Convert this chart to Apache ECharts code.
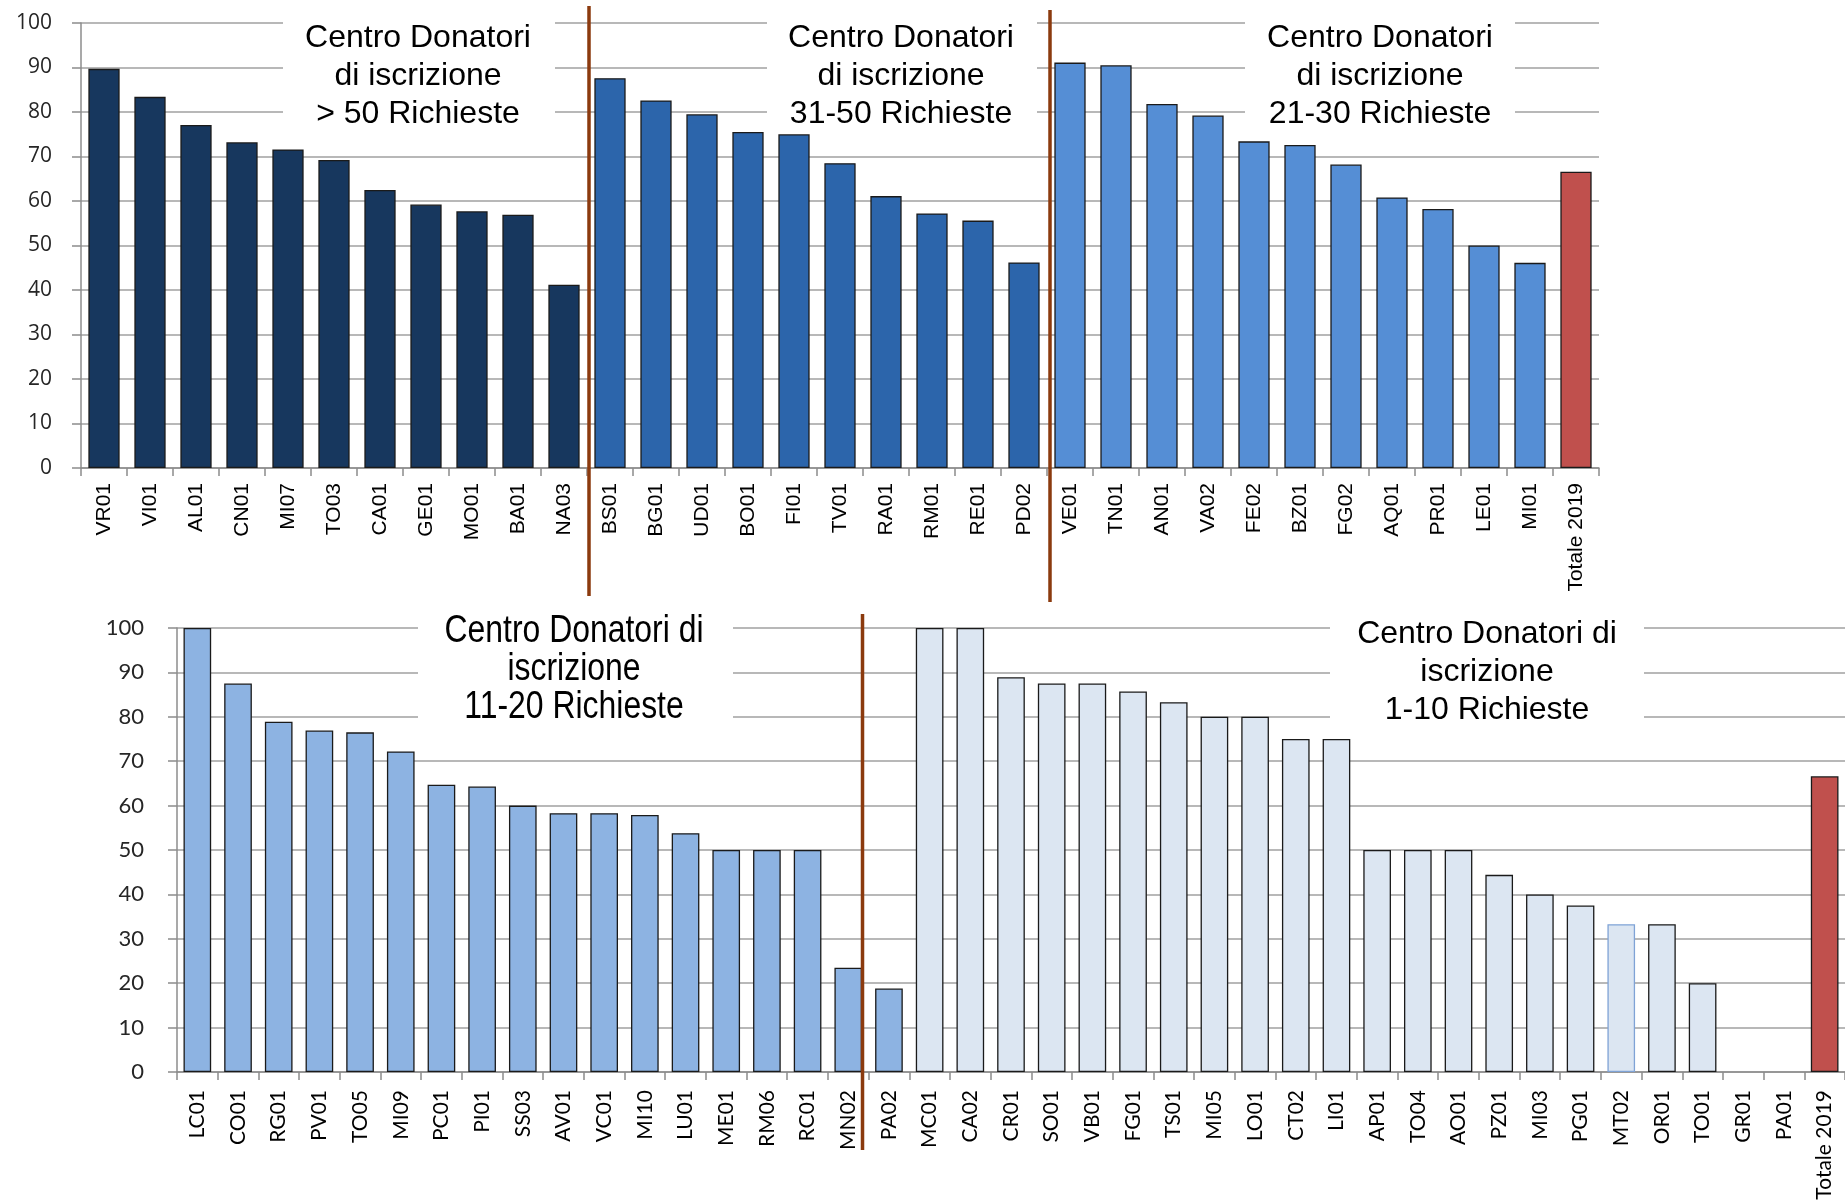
<!DOCTYPE html>
<html><head><meta charset="utf-8">
<script src="https://cdn.jsdelivr.net/npm/echarts@6/dist/echarts.min.js"></script>
<style>html,body{margin:0;padding:0;background:#fff}#c{width:1845px;height:1204px}</style>
</head><body><div id="c"></div>
<script>
// ---------- DATA ----------
const topOver50Labels = ['VR01','VI01','AL01','CN01','MI07','TO03','CA01','GE01','MO01','BA01','NA03'];
const topOver50Values = [89.7, 83.4, 77.1, 73.2, 71.6, 69.2, 62.5, 59.2, 57.7, 56.9, 41.2];
const top31to50Labels = ['BS01','BG01','UD01','BO01','FI01','TV01','RA01','RM01','RE01','PD02'];
const top31to50Values = [87.6, 82.6, 79.5, 75.5, 75.0, 68.5, 61.1, 57.2, 55.6, 46.2];
const top21to30Labels = ['VE01','TN01','AN01','VA02','FE02','BZ01','FG02','AQ01','PR01','LE01','MI01'];
const top21to30Values = [91.1, 90.5, 81.8, 79.2, 73.4, 72.6, 68.2, 60.8, 58.2, 50.0, 46.1];
const bot11to20Labels = ['LC01','CO01','RG01','PV01','TO05','MI09','PC01','PI01','SS03','AV01','VC01','MI10','LU01','ME01','RM06','RC01','MN02','PA02'];
const bot11to20Values = [100, 87.5, 78.9, 76.9, 76.5, 72.2, 64.7, 64.3, 60.0, 58.3, 58.3, 57.9, 53.8, 50, 50, 50, 23.5, 18.8];
const bot1to10Labels = ['MC01','CA02','CR01','SO01','VB01','FG01','TS01','MI05','LO01','CT02','LI01','AP01','TO04','AO01','PZ01','MI03','PG01','MT02','OR01','TO01','GR01','PA01'];
const bot1to10Values = [100, 100, 88.9, 87.5, 87.5, 85.7, 83.3, 80, 80, 75, 75, 50, 50, 50, 44.4, 40, 37.5, 33.3, 33.3, 20, 0, 0];
const totaleLabel = 'Totale 2019';
const totaleValue = 66.6;
const yTicks = [0, 10, 20, 30, 40, 50, 60, 70, 80, 90, 100];

// ---------- STYLE ----------
const C = { g1:'#17375E', g2:'#2C65AB', g3:'#558ED5', g4:'#8DB3E2', g5:'#DCE6F2', tot:'#C0504D' };
const BORDER = '#1A1A1A';
const DIV = '#8B3A0E';

function items(vals, color, labels, special) {
  return vals.map((v, i) => ({
    value: v,
    itemStyle: { color: color, borderColor: (special && special[labels[i]]) || BORDER, borderWidth: v === 0 ? 0 : 1.3 }
  }));
}

const topCats = [].concat(topOver50Labels, top31to50Labels, top21to30Labels, [totaleLabel]);
const topData = [].concat(
  items(topOver50Values, C.g1, topOver50Labels),
  items(top31to50Values, C.g2, top31to50Labels),
  items(top21to30Values, C.g3, top21to30Labels),
  items([totaleValue], C.tot, [totaleLabel]));
const botCats = [].concat(bot11to20Labels, bot1to10Labels, [totaleLabel]);
const botData = [].concat(
  items(bot11to20Values, C.g4, bot11to20Labels),
  items(bot1to10Values, C.g5, bot1to10Labels, { MT02: '#7FA3D6' }),
  items([totaleValue], C.tot, [totaleLabel]));

const chart = echarts.init(document.getElementById('c'), null, { renderer: 'canvas' });

function xAx(idx, cats, font, size, margin) {
  return {
    type: 'category', gridIndex: idx, data: cats,
    axisLine: { show: true, lineStyle: { color: '#8C8C8C', width: 1.5 } },
    axisTick: { show: true, length: 8, interval: 0, lineStyle: { color: '#8C8C8C', width: 1.5 } },
    axisLabel: { rotate: 90, interval: 0, fontFamily: font, fontSize: size, color: '#000', margin: margin },
    splitLine: { show: false }
  };
}
function yAx(idx, font, size, margin) {
  return {
    type: 'value', gridIndex: idx, min: 0, max: 100, interval: 10,
    axisLine: { show: true, lineStyle: { color: '#8C8C8C', width: 1.5 } },
    axisTick: { show: true, length: 9, lineStyle: { color: '#8C8C8C', width: 1.5 } },
    axisLabel: { fontFamily: font, fontSize: size, color: '#262626', margin: margin,
      formatter: v => (yTicks.indexOf(v) >= 0 ? String(v) : '') },
    splitLine: { show: true, lineStyle: { color: '#A0A0A0', width: 1.5 } }
  };
}

chart.setOption({
  animation: false,
  backgroundColor: '#fff',
  grid: [
    { left: 81, right: 246, top: 23, bottom: 736 },
    { left: 177, right: 0, top: 628, bottom: 132 }
  ],
  xAxis: [ xAx(0, topCats, 'Liberation Sans', 21, 15), xAx(1, botCats, 'Lato', 21, 18) ],
  yAxis: [ yAx(0, 'Open Sans', 21, 29), yAx(1, 'Lato', 22, 33) ],
  series: [
    { type: 'bar', xAxisIndex: 0, yAxisIndex: 0, data: topData, barCategoryGap: '32%', z: 3 },
    { type: 'bar', xAxisIndex: 1, yAxisIndex: 1, data: botData, barCategoryGap: '32%', z: 3 }
  ]
});

// ---------- annotations & dividers ----------
function px(axis, i) { return chart.convertToPixel({ xAxisIndex: axis }, i); }
const n1 = topOver50Labels.length, n2 = n1 + top31to50Labels.length;
const d1 = (px(0, n1 - 1) + px(0, n1)) / 2 + 2;
const d2 = (px(0, n2 - 1) + px(0, n2)) / 2 + 3;
const iMN = bot11to20Labels.indexOf('MN02');
const catW = px(1, 1) - px(1, 0);
const d3 = px(1, iMN) + catW * 0.35;

function vline(x, y1, y2) {
  return { type: 'line', z: 20, shape: { x1: x, y1: y1, x2: x, y2: y2 }, style: { stroke: DIV, lineWidth: 3.5 } };
}
function box(x1, x2, y1, y2) {
  return { type: 'rect', z: 1, shape: { x: x1, y: y1, width: x2 - x1, height: y2 - y1 }, style: { fill: '#fff' } };
}
function txt(cx, cy, s, size, sx) {
  return { type: 'text', z: 30, x: cx, y: cy, scaleX: sx || 1,
    style: { text: s, fill: '#000', font: size + 'px "Liberation Sans"', textAlign: 'center', textVerticalAlign: 'top', lineHeight: 38 } };
}

chart.setOption({
  graphic: [
    box(283, 555, 6, 138), box(767, 1037, 6, 138), box(1245, 1515, 6, 138),
    box(418, 733, 606, 740), box(1330, 1644, 606, 740),
    txt(418, 19, 'Centro Donatori\ndi iscrizione\n> 50 Richieste', 32),
    txt(901, 19, 'Centro Donatori\ndi iscrizione\n31-50 Richieste', 32),
    txt(1380, 19, 'Centro Donatori\ndi iscrizione\n21-30 Richieste', 32),
    txt(574, 613, 'Centro Donatori di\niscrizione\n11-20 Richieste', 38, 0.84),
    txt(1487, 615, 'Centro Donatori di\niscrizione\n1-10 Richieste', 32),
    vline(d1, 6, 596), vline(d2, 10, 602), vline(d3, 614, 1150)
  ]
});
</script>
</body></html>
